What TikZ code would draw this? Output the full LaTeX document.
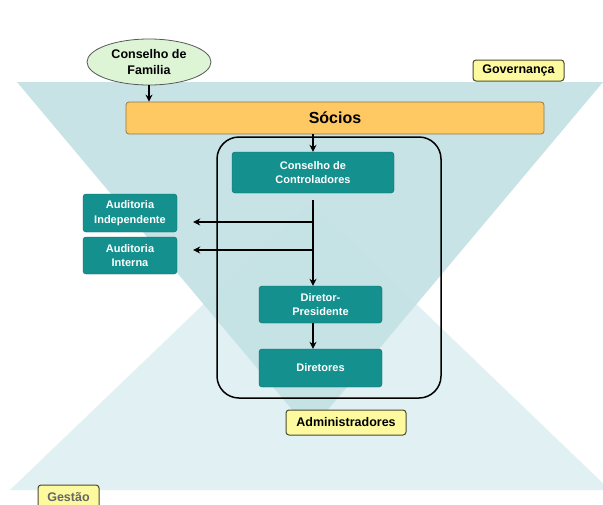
\documentclass[tikz,border=0pt]{standalone}
\usepackage{fontspec}
\setmainfont{Liberation Sans}
\usepackage{tikz}
\usetikzlibrary{shapes.geometric,arrows.meta}
\definecolor{govfill}{HTML}{C3E1E5}
\definecolor{gesfill}{HTML}{E1F0F2}
\definecolor{tealfill}{HTML}{14918F}
\definecolor{tealline}{HTML}{0D6664}
\definecolor{notefill}{HTML}{FDF99E}
\definecolor{noteline}{HTML}{4A4A2E}
\definecolor{barfill}{HTML}{FEC862}
\definecolor{barline}{HTML}{8C7A52}
\definecolor{famfill}{HTML}{DDF4D5}
\tikzset{
  boxnode/.style = {align=center, inner sep=0pt, text centered, font=\bfseries},
  tealbox/.style = {boxnode, rectangle, rounded corners=3pt, fill=tealfill, draw=tealline, text=white, font=\bfseries\fontsize{11}{14.5}\selectfont},
  notebox/.style = {boxnode, rectangle, rounded corners=3pt, fill=notefill, draw=noteline, line width=1pt, font=\bfseries\fontsize{12.5}{14}\selectfont},
  partnerbar/.style = {boxnode, rectangle, rounded corners=3pt, fill=barfill, draw=barline, line width=0.8pt, font=\bfseries\fontsize{16}{18}\selectfont},
  famnode/.style = {boxnode, ellipse, fill=famfill, draw=black!65, line width=0.8pt, font=\bfseries\fontsize{12.5}{16.5}\selectfont},
  link/.style = {line width=1.2pt, -{Stealth[length=7pt,width=7pt]}},
}
\begin{document}
\begin{tikzpicture}[x=1pt,y=-1pt]
\clip (0,0) rectangle (603,504);
\fill[white] (0,0) rectangle (603,504);
% the two triangles behind
\fill[gesfill] (10,490) -- (610,490) -- (310,202) -- cycle;
\fill[govfill, opacity=0.93] (17,82) -- (603,82) -- (310,431) -- cycle;
\draw[line width=1.5pt, rounded corners=22pt] (217,137) rectangle (441,398);

\node [famnode, minimum width=124pt, minimum height=46pt] (fam) at (149,62) {Conselho de\\Familia};
\node [notebox, minimum width=91pt, minimum height=21pt] (gov) at (518.5,70.5) {Governança};
\node [partnerbar, minimum width=418pt, minimum height=32pt] (socios) at (335,118) {Sócios};
\node [tealbox, minimum width=162pt, minimum height=41pt] (cc) at (313,172.5) {Conselho de\\Controladores};
\node [tealbox, minimum width=94pt, minimum height=38pt] (audInd) at (130,213) {Auditoria\\Independente};
\node [tealbox, minimum width=94pt, minimum height=37pt] (audInt) at (130,255.5) {Auditoria\\Interna};
\node [tealbox, minimum width=123pt, minimum height=37pt] (dp) at (320.5,304.5) {Diretor-\\Presidente};
\node [tealbox, minimum width=123pt, minimum height=38pt] (dir) at (320.5,368) {Diretores};
\node [notebox, minimum width=120pt, minimum height=25pt] (adm) at (346,422.5) {Administradores};
\node [notebox, minimum width=61pt, minimum height=25pt, text=black!60] (gestao) at (68.5,497.5) {Gestão};

\coordinate (trunk) at (313,200);
\coordinate (tapInd) at (313,222);
\coordinate (tapInt) at (313,250);

\draw[link] (fam.south) -- (fam.south |- socios.north);
\draw[link] (cc.north |- socios.south) -- (cc.north);
\draw[link] (trunk) -- (trunk |- dp.north);
\draw[link, shorten >=16pt] (tapInd) -- (tapInd -| audInd.east);
\draw[link, shorten >=16pt] (tapInt) -- (tapInt -| audInt.east);
\draw[link] (trunk |- dp.south) -- (trunk |- dir.north);
\end{tikzpicture}
\end{document}
